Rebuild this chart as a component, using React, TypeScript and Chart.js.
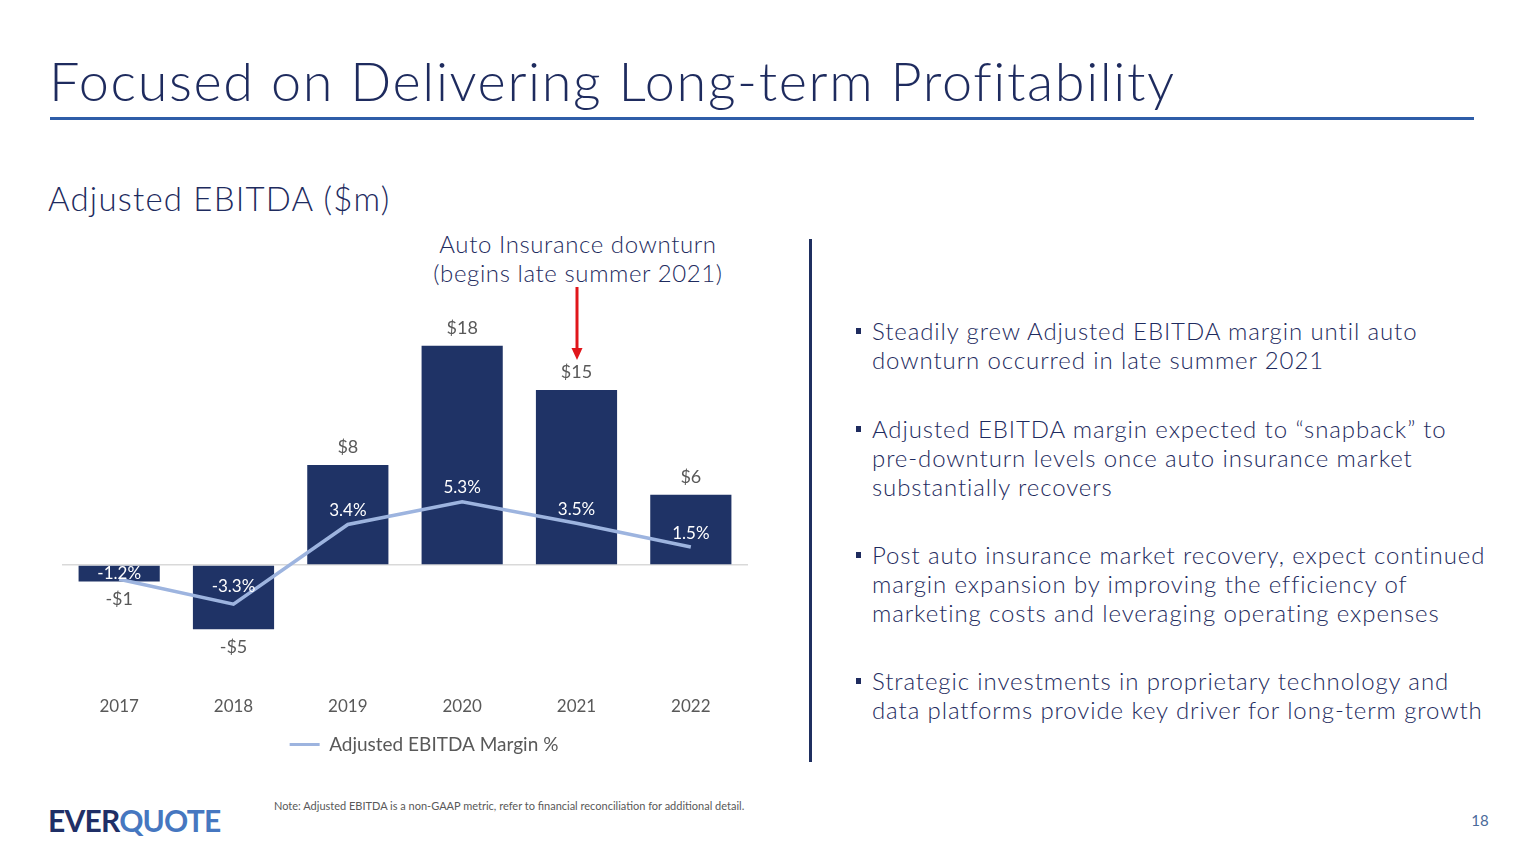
import React, { useEffect, useRef } from "react";
import { Chart, registerables } from "chart.js";

Chart.register(...registerables);

const categories = ["2017", "2018", "2019", "2020", "2021", "2022"];
const ebitdaValues = [-1.4, -5.4, 8.4, 18.4, 14.7, 5.9];
const marginValues = [-1.2, -3.3, 3.4, 5.3, 3.5, 1.5];
const yAxisMin = -10;
const yAxisMax = 22;

const NAVY = "#1F3366";
const TEXT_NAVY = "#1E2B5E";
const LINE_BLUE = "#9DB4DF";
const GRAY = "#595959";
const FONT = "Lato, 'Open Sans', sans-serif";

const bullets = [
  ["Steadily grew Adjusted EBITDA margin until auto", "downturn occurred in late summer 2021"],
  [
    "Adjusted EBITDA margin expected to \u201csnapback\u201d to",
    "pre-downturn levels once auto insurance market",
    "substantially recovers",
  ],
  [
    "Post auto insurance market recovery, expect continued",
    "margin expansion by improving the efficiency of",
    "marketing costs and leveraging operating expenses",
  ],
  [
    "Strategic investments in proprietary technology and",
    "data platforms provide key driver for long-term growth",
  ],
];
const bulletTops = [316, 414, 540, 666];

const fmtMoney = (v: number) => (v < 0 ? "-" : "") + "$" + Math.round(Math.abs(v));
const fmtPct = (v: number) => v.toFixed(1) + "%";

const labelPlugin = {
  id: "valueLabels",
  afterDatasetsDraw(chart: any) {
    const ctx = chart.ctx;
    ctx.save();
    ctx.textAlign = "center";
    ctx.textBaseline = "middle";
    const barMeta = chart.getDatasetMeta(0);
    ctx.font = `18px ${FONT}`;
    ctx.fillStyle = GRAY;
    barMeta.data.forEach((el: any, i: number) => {
      const v = ebitdaValues[i];
      const y = v >= 0 ? el.y - 18 : el.y + 18;
      ctx.fillText(fmtMoney(v), el.x, y);
    });
    const zeroY = chart.scales.y1.getPixelForValue(0);
    const lineMeta = chart.getDatasetMeta(1);
    ctx.font = `17px ${FONT}`;
    ctx.fillStyle = "#FFFFFF";
    lineMeta.data.forEach((el: any, i: number) => {
      const v = marginValues[i];
      let y = el.y - 14;
      if (v < 0) y = Math.max(y - 4, zeroY + 9);
      ctx.fillText(fmtPct(v), el.x, y);
    });
    ctx.restore();
  },
};

function EbitdaChart() {
  const ref = useRef<HTMLCanvasElement | null>(null);
  useEffect(() => {
    if (!ref.current) return;
    const chart = new Chart(ref.current, {
      type: "bar",
      data: {
        labels: categories,
        datasets: [
          {
            type: "bar",
            label: "Adjusted EBITDA ($m)",
            data: ebitdaValues,
            backgroundColor: NAVY,
            borderWidth: 0,
            categoryPercentage: 1,
            barPercentage: 0.71,
            yAxisID: "y",
            order: 1,
          },
          {
            type: "line",
            label: "Adjusted EBITDA Margin %",
            data: marginValues,
            borderColor: LINE_BLUE,
            backgroundColor: LINE_BLUE,
            borderWidth: 3.5,
            pointRadius: 0,
            tension: 0,
            yAxisID: "y1",
            order: 0,
          },
        ],
      },
      options: {
        animation: false,
        responsive: false,
        devicePixelRatio: 1,
        layout: { padding: { top: 3, left: 0, right: 0, bottom: 0 } },
        plugins: {
          tooltip: { enabled: false },
          legend: {
            position: "bottom",
            labels: {
              font: { family: FONT, size: 19 },
              color: GRAY,
              padding: 17,
              boxWidth: 30,
              boxHeight: 3,
              generateLabels: () => [
                {
                  text: "Adjusted EBITDA Margin %",
                  fillStyle: LINE_BLUE,
                  strokeStyle: LINE_BLUE,
                  lineWidth: 0,
                  hidden: false,
                  datasetIndex: 1,
                  fontColor: GRAY,
                },
              ],
            },
          },
        },
        scales: {
          x: {
            grid: { display: false, drawTicks: false },
            border: { display: false },
            ticks: { font: { family: FONT, size: 17 }, color: GRAY, padding: 12 },
            afterFit: (s: any) => {
              s.height = 34;
            },
          },
          y: {
            min: yAxisMin,
            max: yAxisMax,
            border: { display: false },
            ticks: { display: false, stepSize: 2 },
            grid: {
              drawTicks: false,
              lineWidth: 1.5,
              color: (c: any) => (c.tick && c.tick.value === 0 ? "#D9D9D9" : "rgba(0,0,0,0)"),
            },
            afterFit: (s: any) => {
              s.width = 0;
            },
          },
          y1: {
            position: "right",
            min: yAxisMin,
            max: yAxisMax,
            border: { display: false },
            grid: { display: false, drawTicks: false },
            ticks: { display: false },
            afterFit: (s: any) => {
              s.width = 38;
            },
          },
        },
      },
      plugins: [labelPlugin],
    } as any);
    return () => chart.destroy();
  }, []);
  return (
    <canvas
      ref={ref}
      width={724}
      height={464}
      style={{ position: "absolute", left: 62, top: 300, width: 724, height: 464, display: "block" }}
    />
  );
}

export default function App() {
  return (
    <div
      style={{
        position: "absolute",
        left: 0,
        top: 0,
        width: 1536,
        height: 864,
        background: "#FFFFFF",
        overflow: "hidden",
        fontFamily: FONT,
        color: TEXT_NAVY,
      }}
    >
      <div
        style={{
          position: "absolute",
          left: 49,
          top: 46,
          fontSize: 54,
          fontWeight: 300,
          lineHeight: "70px",
          letterSpacing: "1.62px",
          whiteSpace: "nowrap",
          color: TEXT_NAVY,
        }}
      >
        Focused on Delivering Long-term Profitability
      </div>
      <div style={{ position: "absolute", left: 50, top: 117, width: 1424, height: 3, background: "#2E5DA8" }} />
      <div
        style={{
          position: "absolute",
          left: 48,
          top: 178,
          fontSize: 33,
          fontWeight: 300,
          lineHeight: "40px",
          letterSpacing: "1.2px",
          whiteSpace: "nowrap",
        }}
      >
        Adjusted EBITDA ($m)
      </div>
      <div
        style={{
          position: "absolute",
          left: 378,
          width: 400,
          top: 229,
          fontSize: 24,
          fontWeight: 300,
          lineHeight: "29px",
          letterSpacing: "0.6px",
          textAlign: "center",
          whiteSpace: "nowrap",
        }}
      >
        <div>Auto Insurance downturn</div>
        <div>(begins late summer 2021)</div>
      </div>
      <svg style={{ position: "absolute", left: 560, top: 284, width: 36, height: 80 }} width={36} height={80}>
        <line x1={17} y1={3} x2={17} y2={66} stroke="#E0161B" strokeWidth={3} />
        <polygon points="11.5,64 22.5,64 17,76" fill="#E0161B" />
      </svg>
      <EbitdaChart />
      <div style={{ position: "absolute", left: 809, top: 239, width: 3, height: 523, background: "#1F2F60" }} />
      {bullets.map((lines, bi) => (
        <div key={bi} style={{ position: "absolute", left: 855, top: bulletTops[bi] }}>
          <div
            style={{
              position: "absolute",
              left: 1,
              top: 12,
              width: 5,
              height: 6,
              background: TEXT_NAVY,
            }}
          />
          {lines.map((ln, li) => (
            <div
              key={li}
              style={{
                position: "absolute",
                left: 17,
                top: li * 29,
                fontSize: 24,
                fontWeight: 300,
                lineHeight: "29px",
                letterSpacing: "0.9px",
                whiteSpace: "nowrap",
              }}
            >
              {ln}
            </div>
          ))}
        </div>
      ))}
      <div
        style={{
          position: "absolute",
          left: 48,
          top: 803,
          fontSize: 30,
          fontWeight: 700,
          lineHeight: "34px",
          letterSpacing: "-0.8px",
          whiteSpace: "nowrap",
        }}
      >
        <span style={{ color: "#1F2F66" }}>EVER</span>
        <span style={{ color: "#4677C0" }}>QUOTE</span>
      </div>
      <div
        style={{
          position: "absolute",
          left: 274,
          top: 799,
          fontSize: 11,
          lineHeight: "14px",
          color: GRAY,
          whiteSpace: "nowrap",
        }}
      >
        Note: Adjusted EBITDA is a non-GAAP metric, refer to financial reconciliation for additional detail.
      </div>
      <div
        style={{
          position: "absolute",
          left: 1460,
          width: 40,
          top: 811,
          fontSize: 15,
          lineHeight: "18px",
          textAlign: "center",
          color: "#4A6A9A",
        }}
      >
        18
      </div>
    </div>
  );
}
